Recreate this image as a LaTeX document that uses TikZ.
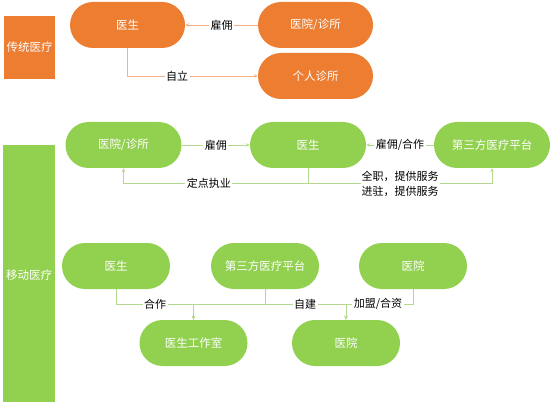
\documentclass[tikz,border=0pt]{standalone}
\usepackage{fontspec}
\setmainfont{Noto Sans CJK SC}
\usetikzlibrary{arrows.meta}
\definecolor{orfill}{HTML}{ED7D31}
\definecolor{orline}{HTML}{F4B183}
\definecolor{grfill}{HTML}{92D050}
\definecolor{grline}{HTML}{B4D88F}
\tikzset{
  pill/.style={rectangle, rounded corners=23pt, minimum height=46pt, inner sep=0pt,
     text=white, font=\fontsize{11.5}{13}\selectfont},
  opill/.style={pill, fill=orfill, minimum width=115pt},
  gpill/.style={pill, fill=grfill, minimum width=116pt},
  gpill2/.style={pill, fill=grfill, minimum width=108pt},
  sidebox/.style={rectangle, inner sep=0pt, text=white, font=\fontsize{11.5}{13}\selectfont},
  lbl/.style={fill=white, inner sep=1.5pt, text=black, font=\fontsize{11}{13}\selectfont},
  oline/.style={draw=orline, line width=0.9pt, -{Stealth[length=4pt,width=3.5pt]}},
  gline/.style={draw=grline, line width=0.9pt, -{Stealth[length=4pt,width=3.5pt]}},
  gplain/.style={draw=grline, line width=0.9pt},
}
\begin{document}
\begin{tikzpicture}[x=1pt,y=-1pt]
\useasboundingbox (0,0) rectangle (554,406);
% traditional
\node[sidebox, fill=orfill, minimum width=51pt, minimum height=63pt] (T) at (29.5,47.5) {传统医疗};
\node[opill] (A1) at (127.5,25) {医生};
\node[opill] (A2) at (315.5,25) {医院/诊所};
\node[opill] (A3) at (315.5,76) {个人诊所};
\draw[oline] (A2.west) -- node[lbl]{雇佣} (A1.east);
\draw[oline] (A1.south) |- node[lbl,pos=0.69]{自立} (A3.west);
% mobile
\node[sidebox, fill=grfill, minimum width=52pt, minimum height=257pt] (M) at (29,273.5) {};
\node[text=white, font=\fontsize{11.5}{13}\selectfont, inner sep=0pt] (Mtext) at (29,275) {移动医疗};
\node[gpill] (B1) at (123.5,145) {医院/诊所};
\node[gpill] (B2) at (308,145) {医生};
\node[gpill] (B3) at (492,145) {第三方医疗平台};
\draw[gline] (B1.east) -- node[lbl]{雇佣} (B2.west);
\draw[gline] (B3.west) -- node[lbl]{雇佣/合作} (B2.east);
\coordinate (bus1) at (308,183);
\draw[gplain] (B2.south) -- (bus1);
\draw[gline] (bus1) -| node[lbl,pos=0.25,xshift=-7pt]{定点执业} (B1.south);
\draw[gline] (bus1) -| (B3.south);
\node[lbl, align=left, inner sep=1pt, font=\fontsize{11}{15}\selectfont] (L3) at (400,183.5) {全职，提供服务\\进驻，提供服务};
% row 2
\node[gpill2] (C1) at (116,266) {医生};
\node[gpill2] (C2) at (265,266) {第三方医疗平台};
\node[gpill2] (C3) at (413,266) {医院};
\node[gpill2] (D1) at (193.5,343) {医生工作室};
\node[gpill2] (D2) at (346,343) {医院};
\coordinate (j1) at (193.5,304);
\coordinate (j2) at (346,304);
\draw[gline] (C1.south) |- (j1) -- (D1.north);
\draw[gline] (C2.south) |- (j1) -- (D1.north);
\draw[gline] (C2.south) |- (j2) -- (D2.north);
\draw[gline] (C3.south) |- (j2) -- (D2.north);
\node[lbl] (l1) at (155,304) {合作};
\node[lbl] (l2) at (305,304) {自建};
\node[lbl] (l3) at (378,304) {加盟/合资};
\end{tikzpicture}
\end{document}
